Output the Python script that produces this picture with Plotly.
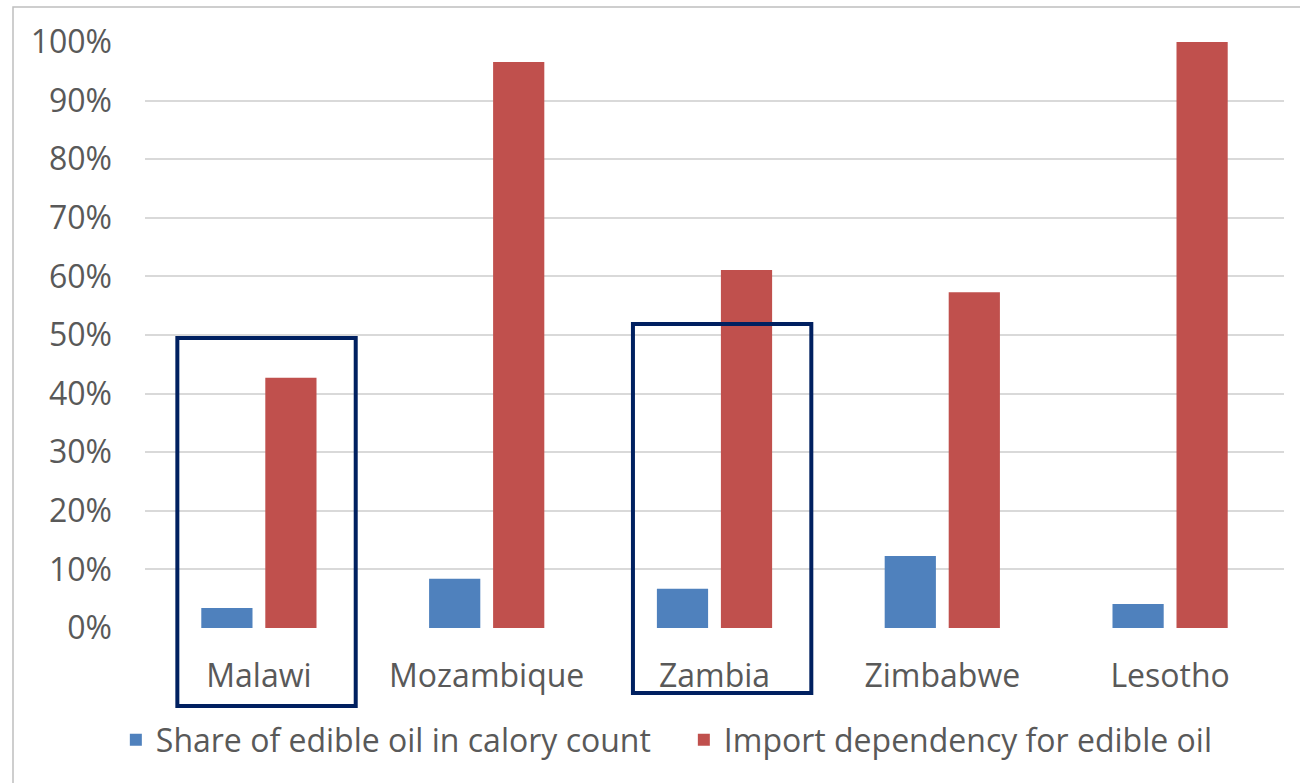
import plotly.graph_objects as go

countries = ["Malawi", "Mozambique", "Zambia", "Zimbabwe", "Lesotho"]
share_oil_calories = [0.034, 0.084, 0.067, 0.123, 0.041]
import_dependency = [0.427, 0.966, 0.611, 0.573, 1.0]
series_names = ["Share of edible oil in calory count", "Import dependency for edible oil"]
highlighted = ["Malawi", "Zambia"]
y_ticks = [i / 10 for i in range(11)]

FONT = "Open Sans"
TXT = "#595959"
FS = 32

fig = go.Figure()
fig.add_bar(x=countries, y=share_oil_calories, name=series_names[0],
            marker=dict(color="#4F81BD", line=dict(width=0)))
fig.add_bar(x=countries, y=import_dependency, name=series_names[1],
            marker=dict(color="#C0504D", line=dict(width=0)))

# plot area geometry (px)
L, R, T, B = 145, 16, 42, 155
W, H = 1300, 783
pw, ph = W - L - R, H - T - B

def px_x(p):
    return (p - L) / pw

def px_y(p):
    return (H - B - p) / ph

shapes = []
# outer chart frame (partially visible)
shapes.append(dict(type="rect", xref="paper", yref="paper",
                   x0=px_x(13), x1=px_x(1400), y0=px_y(900), y1=px_y(7),
                   line=dict(color="#BFBFBF", width=1.5), fillcolor="rgba(0,0,0,0)", layer="below"))
# highlight boxes around selected countries
box_tops = {"Malawi": 338, "Zambia": 324}
box_bottoms = {"Malawi": 706, "Zambia": 693}
n = len(countries)
for c in highlighted:
    i = countries.index(c)
    x0 = (i + 0.5 - 0.358) / n
    x1 = (i + 0.5 + 0.425) / n
    shapes.append(dict(type="rect", xref="paper", yref="paper",
                       x0=x0, x1=x1, y0=px_y(box_bottoms[c]), y1=px_y(box_tops[c]),
                       line=dict(color="#002060", width=4), fillcolor="rgba(0,0,0,0)"))

fig.update_layout(
    width=W, height=H,
    margin=dict(l=L, r=R, t=T, b=B),
    paper_bgcolor="white", plot_bgcolor="white",
    barmode="group", bargap=0.438, bargroupgap=0.2,
    font=dict(family=FONT, color=TXT, size=FS),
    shapes=shapes,
    legend=dict(orientation="h", x=-0.0256, xanchor="left", y=px_y(740), yanchor="middle",
                font=dict(size=FS, color=TXT), entrywidth=523, itemwidth=30,
                bgcolor="rgba(0,0,0,0)"),
    showlegend=True,
)
fig.update_xaxes(showgrid=False, showline=False, ticks="", ticklabelstandoff=26,
                 tickfont=dict(size=FS, color=TXT))
fig.update_yaxes(range=[0, 1], tickvals=y_ticks, tickformat=".0%", showgrid=True,
                 gridcolor="#D9D9D9", gridwidth=1.5, zeroline=False, showline=False,
                 ticks="", ticklabelstandoff=32, tickfont=dict(size=FS, color=TXT))

fig.write_html("out.html", config={"displayModeBar": False},
               post_script="document.body.style.margin='0';document.body.style.overflow='hidden';")
